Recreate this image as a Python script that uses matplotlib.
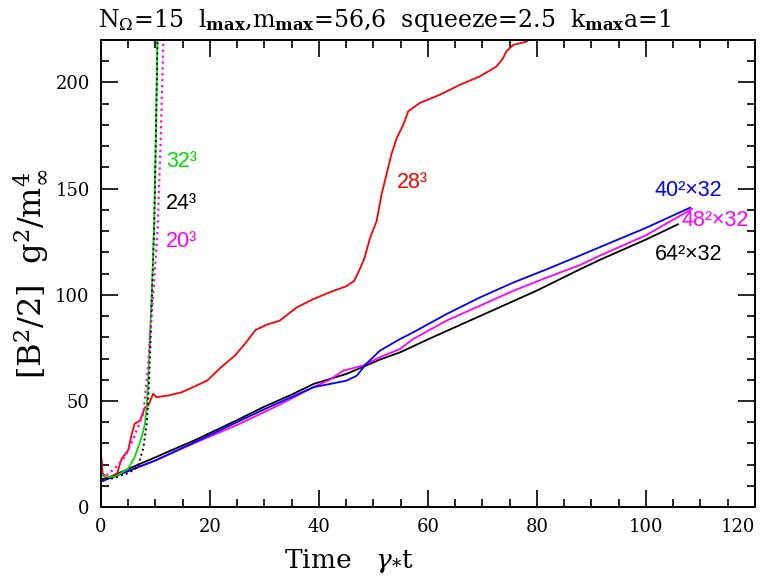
import numpy as np
import matplotlib
matplotlib.use('Agg')
import matplotlib.pyplot as plt
from matplotlib.ticker import MultipleLocator

plt.rcParams['font.family'] = 'DejaVu Serif'
plt.rcParams['mathtext.fontset'] = 'dejavuserif'

# values
t_64 = [0, 2, 5, 10, 17.2, 25, 29.8, 35, 39, 45.1, 51.2, 54.9, 60, 70, 80, 87.9, 91.6, 100, 105.9]
b_64 = [13, 14.5, 18, 23.5, 31.5, 41, 47.1, 53, 58, 62.8, 69.5, 72.9, 79, 90.5, 102, 112, 116.5, 126, 133.2]

t_40 = [0, 0.5, 3, 10, 18.2, 29.8, 39, 42, 45.1, 47, 48.7, 51.2, 54.9, 57.3, 63.4, 69.5, 75.7, 81.8, 87.9, 91.6, 100, 108.1]
b_40 = [12, 12.5, 15, 22, 31.8, 45.9, 56.5, 58, 59.6, 62, 67.5, 73.7, 79.2, 82.3, 90.9, 98.7, 105.8, 112, 118.5, 122.5, 131.5, 141]

t_48 = [0, 0.3, 1, 3, 10, 17, 25.5, 33, 39, 42, 44.5, 48.1, 51.2, 54.9, 57.3, 63.4, 69.5, 75.7, 81.8, 87.9, 91.6, 100, 108.5]
b_48 = [25, 16, 14, 15, 22, 30, 39.3, 48.5, 56.5, 60, 64.3, 66.7, 70.6, 74.5, 79.2, 87.8, 94.8, 101.9, 108.1, 114, 118.5, 128, 140.5]

t_32 = [0, 1, 2.6, 5, 6.2, 7.5, 8.1, 8.4, 8.7, 9.0, 9.4, 9.8, 10.1, 10.4]
b_32 = [15, 14.5, 14.2, 18.2, 23.6, 33, 39.4, 47, 60, 80, 105, 135, 175, 222]

t_24 = [0, 2, 5, 6.8, 7.8, 8.4, 8.7, 9.0, 9.4, 9.8, 10.1, 10.4]
b_24 = [13, 13.5, 16, 19, 28, 39, 50, 70, 100, 133, 175, 222]

t_20 = [0, 1, 2.6, 4.4, 5.6, 6.8, 7.8, 8.1, 8.4, 8.7, 9.0, 9.6, 10.4, 11.0, 11.5]
b_20 = [16, 15, 18.3, 23.6, 29.9, 37.7, 44, 51.8, 59.6, 67, 80, 100, 130, 175, 222]

t_28 = [0, 0.3, 1, 2, 3, 3.8, 5, 5.6, 6.2, 7.2, 8.1, 8.7, 9.6, 10.2, 12.4, 14.8, 16.9, 19.5, 22.1,
        24.6, 26.4, 28.4, 30.5, 32.8, 35.9, 39, 42.3, 45, 46.5, 47.5, 48.4, 49.4, 50.6, 51.5, 52.4,
        53.3, 54.3, 55.5, 56.4, 58.5, 62.2, 65.9, 69.5, 72.6, 73.8, 74.4, 75.7, 78.1, 79.5]
b_28 = [26, 16, 14, 14.5, 16, 22.8, 26.8, 33.8, 39.3, 40.8, 47, 47.9, 53.4, 51.8, 52.6, 54.1, 56.5,
        59.6, 66, 71.4, 76.8, 83.5, 86, 87.8, 94, 98, 101.5, 104, 106.6, 112, 117.5, 126.9, 134.7,
        147.2, 156.6, 166, 173.9, 180.1, 186.4, 190.3, 194.2, 198.9, 202.8, 207.5, 211.4, 214.6,
        217.7, 219.2, 222]

fig = plt.figure(figsize=(7.64, 5.79), dpi=100)
ax = fig.add_axes([0.132, 0.124, 0.856, 0.807])

ax.plot(t_64, b_64, color='black', lw=1.3)
ax.plot(t_48, b_48, color='magenta', lw=1.3)
ax.plot(t_40, b_40, color='blue', lw=1.3)
ax.plot(t_28, b_28, color='red', lw=1.3)
ax.plot(t_32, b_32, color='#00e000', lw=1.3)
ax.plot(t_24, b_24, color='black', lw=1.4, ls=':')
ax.plot(t_20, b_20, color='magenta', lw=1.6, ls=':')

lab = dict(family='Liberation Sans', fontsize=15.5)
ax.text(12, 163, '32³', color='#00e000', va='center', **lab)
ax.text(12, 143, '24³', color='black', va='center', **lab)
ax.text(12, 125, '20³', color='magenta', va='center', **lab)
ax.text(54.3, 153, '28³', color='red', va='center', **lab)
ax.text(101.6, 149, '40²×32', color='blue', va='center', **lab)
ax.text(106.5, 135, '48²×32', color='magenta', va='center', **lab)
ax.text(101.6, 119, '64²×32', color='black', va='center', **lab)

ax.set_xlim(0, 120)
ax.set_ylim(0, 220)
ax.xaxis.set_major_locator(MultipleLocator(20))
ax.xaxis.set_minor_locator(MultipleLocator(5))
ax.yaxis.set_major_locator(MultipleLocator(50))
ax.yaxis.set_minor_locator(MultipleLocator(10))
ax.tick_params(which='both', direction='in', top=True, right=True, width=1.2)
ax.tick_params(which='major', length=12, labelsize=13, pad=8)
ax.tick_params(which='minor', length=6)
for s in ax.spines.values():
    s.set_linewidth(1.4)

# keep the last x tick label inside the figure
fig.canvas.draw()
for tick in ax.xaxis.get_major_ticks():
    if abs(tick.get_loc() - 120) < 1e-6:
        tick.label1.set_horizontalalignment('right')

ax.set_xlabel(r'Time   $\gamma_{*}\mathrm{t}$', fontsize=19, labelpad=3)
ax.xaxis.set_label_coords(0.379, -0.085)
ax.set_ylabel(r'$[\mathrm{B}^2/2]\ \ \mathrm{g}^2/\mathrm{m}_\infty^4$', fontsize=23, labelpad=4)

fig.text(0.503, 0.965,
         r'$\mathrm{N}_{\Omega}$=15  l$_{\mathbf{max}}$,m$_{\mathbf{max}}$=56,6  squeeze=2.5  k$_{\mathbf{max}}$a=1',
         ha='center', va='center', fontsize=17)

plt.savefig('out.png', dpi=100)
